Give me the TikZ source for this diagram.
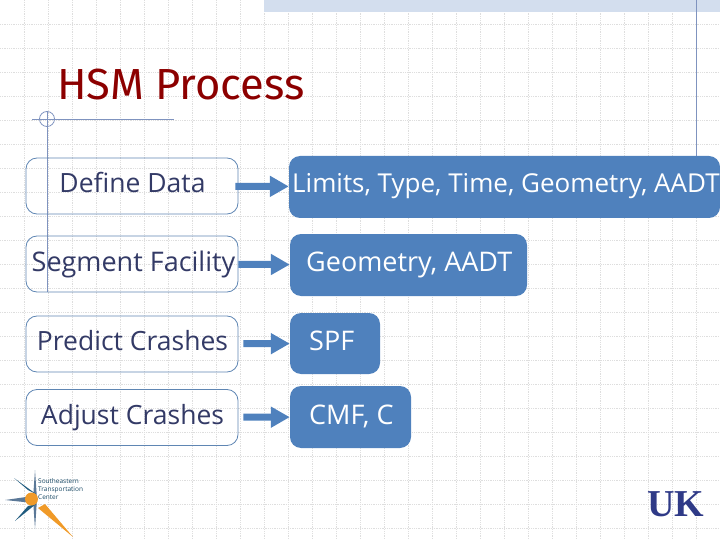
\documentclass[tikz,border=0pt]{standalone}
\usepackage{fontspec}
\setmainfont{Open Sans}
\newfontfamily\titlefont{Fira Sans}
\newfontfamily\ukfont[Scale=1]{Liberation Serif}
\usetikzlibrary{arrows.meta}
\definecolor{boxline}{HTML}{5F86B3}
\definecolor{boxfill}{HTML}{4F81BD}
\definecolor{boxtext}{HTML}{333A66}
\definecolor{gridline}{HTML}{DEDEDE}
\definecolor{ruleline}{HTML}{7F93BF}
\definecolor{bandfill}{HTML}{D3DEEE}
\definecolor{starblue}{HTML}{1F5B7F}
\definecolor{stargray}{HTML}{5B7897}
\definecolor{starorange}{HTML}{F09A28}
\definecolor{ukblue}{HTML}{2F3A87}
\tikzset{
  stepbox/.style={draw=boxline, line width=0.8pt, rounded corners=11pt, inner sep=0pt, minimum width=212pt},
  valuebox/.style={fill=boxfill, rounded corners=11pt, inner sep=0pt},
  steptext/.style={anchor=base, inner sep=0pt, text=boxtext, font=\fontsize{26.5}{30}\selectfont},
  valuetext/.style={anchor=base west, inner sep=0pt, text=white, font=\fontsize{27}{30}\selectfont},
  logotext/.style={anchor=west, inner sep=0pt, text=starblue!80!black, font=\fontsize{6.5}{7}\selectfont},
  flowarrow/.style={draw=boxfill, line width=7pt, -{Triangle[length=19pt,width=20pt]}},
}
\begin{document}
\begin{tikzpicture}[x=1pt,y=-1pt]
\useasboundingbox (0,0) rectangle (720,540);
\foreach \i in {1,...,29} \draw[gridline, densely dotted, line width=0.8pt] (24*\i,0) -- (24*\i,540);
\foreach \i in {1,...,22} \draw[gridline, densely dotted, line width=0.8pt] (0,24*\i) -- (720,24*\i);
\fill[bandfill] (264,0) rectangle (720,12.5);
\draw[ruleline, line width=0.8pt] (696.5,0) -- (696.5,156);
\draw[ruleline, line width=0.8pt] (47,111) -- (47,292);
\draw[ruleline, line width=0.8pt] (32,119) -- (174,119);
\draw[ruleline, line width=0.8pt] (47,119) circle [radius=7.5];

\node[anchor=base west, inner sep=0pt, text=red!55!black, font=\titlefont\fontsize{43.5}{46}\selectfont] (title) at (57,100) {HSM Process};

\node[stepbox, minimum height=56pt] (s0) at (132,186) {};
\node[stepbox, minimum height=56pt] (s1) at (132,264) {};
\node[stepbox, minimum height=56pt] (s2) at (132,344) {};
\node[stepbox, minimum height=56pt] (s3) at (132,417.5) {};
\node[steptext] (t0) at (132.5,192.5) {Define Data};
\node[steptext, font=\fontsize{27}{30}\selectfont] (t1) at (133.5,271) {Segment Facility};
\node[steptext] (t2) at (132.5,350) {Predict Crashes};
\node[steptext] (t3) at (132.5,424) {Adjust Crashes};

\node[valuebox, minimum width=431pt, minimum height=62pt] (v0) at (504.5,187) {};
\node[valuebox, minimum width=237pt, minimum height=62pt] (v1) at (408.5,265) {};
\node[valuebox, minimum width=90pt, minimum height=61pt] (v2) at (335,343.5) {};
\node[valuebox, minimum width=121pt, minimum height=62pt] (v3) at (350.5,417) {};
\node[valuetext, font=\fontsize{26}{30}\selectfont] (u0) at (292,193) {Limits, Type, Time, Geometry, AADT};
\node[valuetext] (u1) at (306,271) {Geometry, AADT};
\node[valuetext] (u2) at (309,350.5) {SPF};
\node[valuetext] (u3) at (309,424) {CMF, C};

\draw[flowarrow, shorten <=-3pt] (s0) -- (v0);
\draw[flowarrow] (s1) -- (v1);
\draw[flowarrow, shorten <=5pt] (s2) -- (v2);
\draw[flowarrow, shorten <=5pt] (s3) -- (v3);

\fill[stargray] (33,499) -- (35,470) -- (37,499) -- (35,529) -- cycle;
\fill[stargray] (33,496) -- (5,500) -- (33,503) -- cycle;
\fill[starblue] (28,490) -- (14,478) -- (36,494) -- cycle;
\fill[starblue] (28,506) -- (15,521) -- (36,504) -- cycle;
\fill[starorange] (31.5,499) circle [radius=6.5];
\fill[starorange] (38,508) -- (45,504) -- (73,537) -- cycle;
\node[logotext] (l0) at (38,481) {Southeastern};
\node[logotext] (l1) at (38,490) {Transportation};
\node[logotext] (l2) at (38,497.5) {Center};

\node[anchor=base west, inner sep=0pt, text=ukblue, font=\ukfont\bfseries\fontsize{38}{40}\selectfont] (uk) at (647,516) {UK};
\fill[white] (676.5,512) circle [radius=1.5];
\end{tikzpicture}
\end{document}
